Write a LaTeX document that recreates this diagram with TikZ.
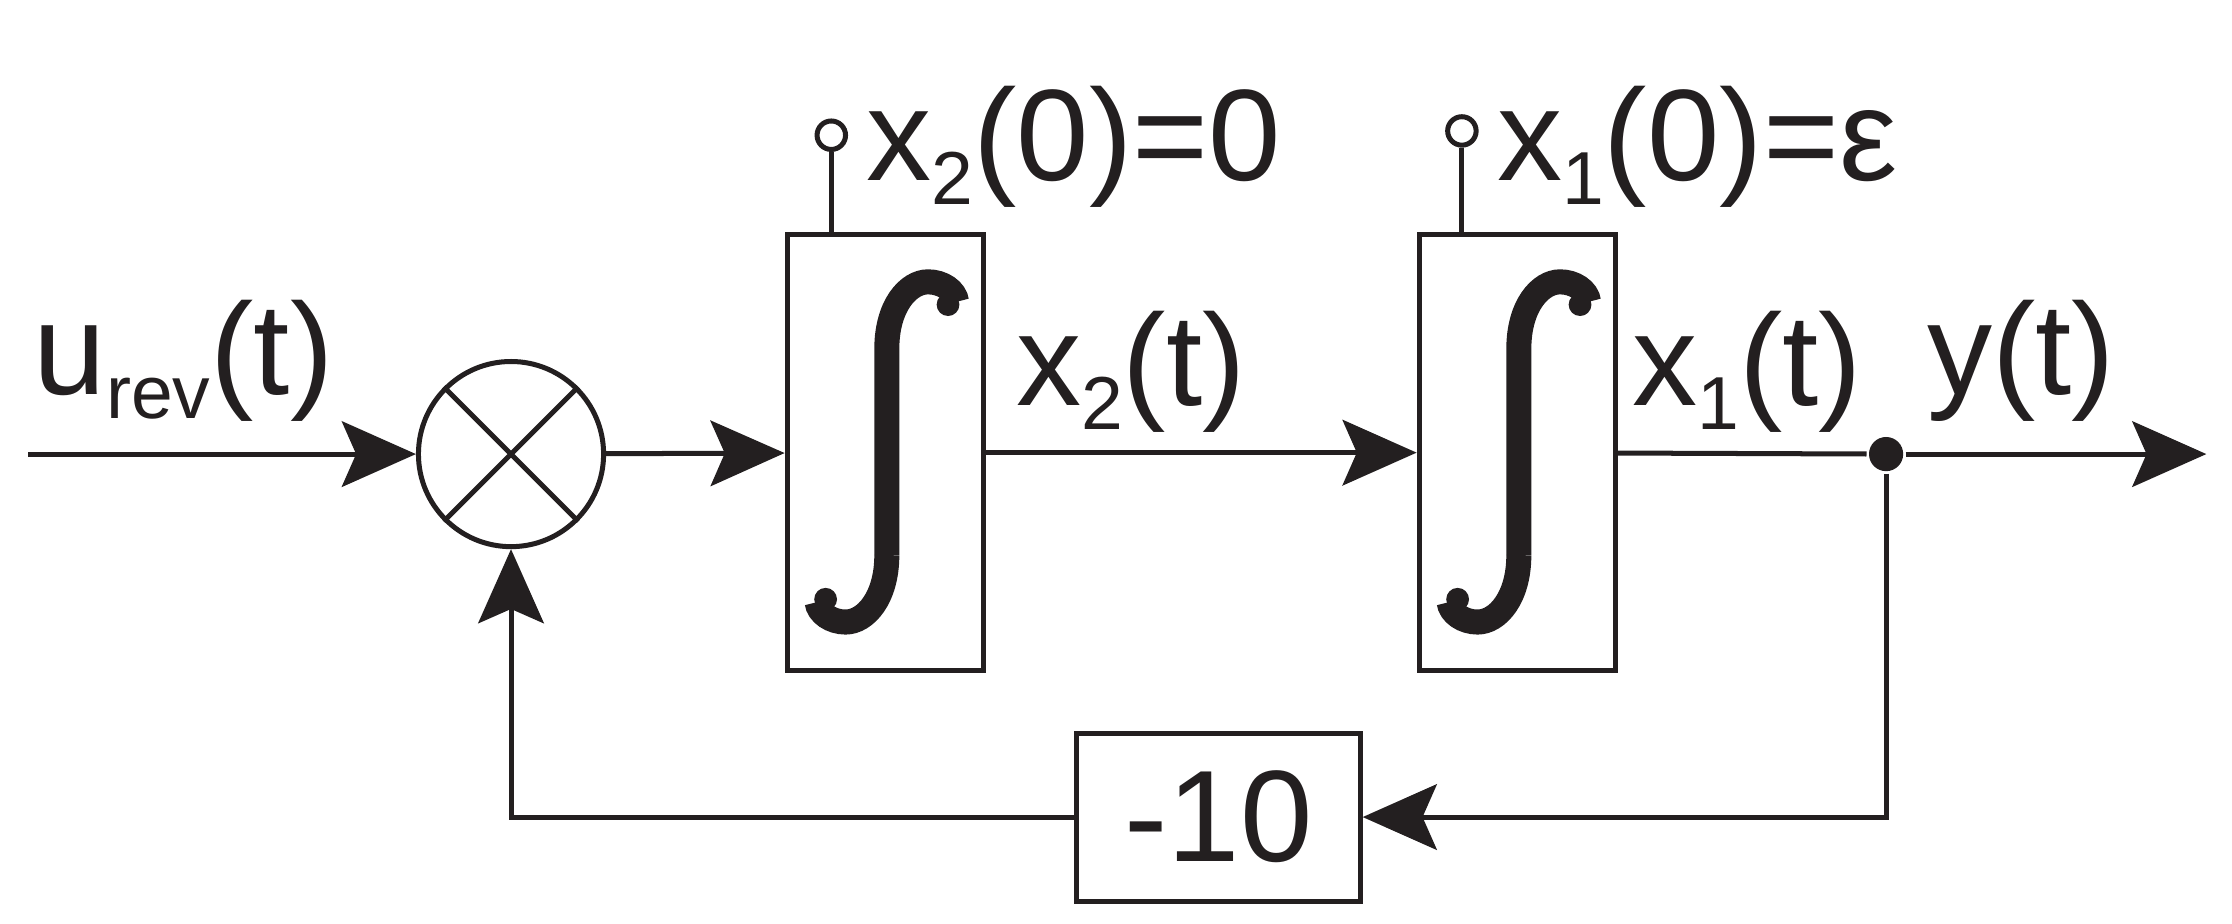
\documentclass[tikz,border=0pt]{standalone}
\usepackage{fontspec}
\setmainfont{Liberation Sans}
\usetikzlibrary{arrows.meta}
\newcommand{\sbs}[1]{\raisebox{-0.35ex}{\fontsize{15}{18}\selectfont #1}}
\begin{document}
\begin{tikzpicture}[x=0.01cm,y=-0.01cm,line width=1pt,color={rgb,255:red,35;green,31;blue,32},
  ar/.style={-{Stealth[length=0.52cm,width=0.46cm,inset=0.1cm]}},
  blk/.style={draw,minimum width=1.38cm,minimum height=3.06cm,inner sep=0pt},
  lbl/.style={font=\fontsize{26}{32}\selectfont,inner sep=0pt},
  pin/.style={draw,circle,minimum size=0.2cm,inner sep=0pt,fill=white},
  intg/.style={line width=5pt}]
\useasboundingbox (0,0) rectangle (1568,649);
\coordinate (in) at (20,319);
\node[draw,circle,minimum size=1.3cm,inner sep=0pt] (sum) at (359,319) {};
\draw (sum.45) -- (sum.225) (sum.135) -- (sum.315);
\node[blk] (i2) at (622,318) {};
\node[blk] (i1) at (1066,318) {};
\foreach \dx in {0,444}{
  \begin{scope}[xshift=\dx*0.01cm]
  \draw[intg] (623,390) -- (623,245) .. controls (623,215) and (638,198) .. (652,198) .. controls (662,198) and (671,204) .. (672,212);
  \fill (666,214) circle (0.08cm);
  \draw[intg] (623,390) .. controls (623,420) and (608,437) .. (594,437) .. controls (584,437) and (575,431) .. (574,423);
  \fill (580,421) circle (0.08cm);
  \end{scope}}
\node[draw,minimum width=1.99cm,minimum height=1.18cm,inner sep=0pt,lbl] (g) at (856,574) {-10};
\node[circle,fill,minimum size=0.24cm,inner sep=0pt] (dot) at (1325,319) {};
\coordinate (out) at (1550,319);
\coordinate (c1) at (1325,574);
\coordinate (c2) at (359,574);
\node[pin] (p2) at (584,95) {};
\node[pin] (p1) at (1027,92) {};
\draw (p2) -- (p2 |- i2.north);
\draw (p1) -- (p1 |- i1.north);
\draw[ar] (in) -- (sum);
\draw[ar] (sum) -- (i2);
\draw[ar] (i2) -- (i1);
\draw (i1) -- (dot);
\draw[ar] (dot) -- (out);
\draw[ar] (dot) -- (c1) -- (g);
\draw[ar] (g) -- (c2) -- (sum);
\node[lbl,anchor=base west] (lu) at (22,277) {u\sbs{rev}(t)};
\node[lbl,anchor=base west] (lx2) at (712,285) {x\sbs{2}(t)};
\node[lbl,anchor=base west] (lx1) at (1145,285) {x\sbs{1}(t)};
\node[lbl,anchor=base west] (ly) at (1352,277) {y(t)};
\node[lbl,anchor=base west] (l20) at (607,127) {x\sbs{2}(0)=0};
\node[lbl,anchor=base west] (l10) at (1050,127) {x\sbs{1}(0)=ε};
\end{tikzpicture}
\end{document}
